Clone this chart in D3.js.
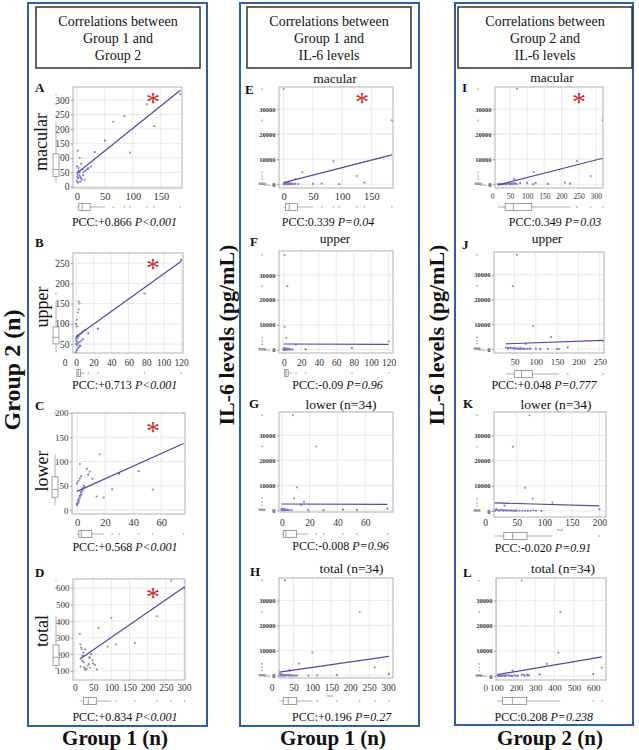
<!DOCTYPE html>
<html><head><meta charset="utf-8">
<script src="https://cdn.jsdelivr.net/npm/d3@7"></script>
<style>body{margin:0;background:#fff}svg{display:block}</style>
</head><body><svg id="c" width="639" height="750"></svg>
<script>
// ---------- DATA (34 patients) ----------
const il6 = [38000, 25500, 9200, 4800, 3300, 2100, 700, 150, 250, 50, 600, 500, 450, 400, 350, 300, 280, 250, 220, 200, 180, 150, 130, 120, 100, 90, 80, 70, 60, 50, 40, 30, 20, 10];
const g1Macular = [0, 185, 85, 32, 125, 20, 138, 50, 65, 95, 2, 5, 8, 3, 10, 15, 20, 12, 1, 4, 6, 7, 0, 2, 9, 18, 25, 3, 5, 1, 11, 14, 6, 2];
const g2Macular = [71, 320, 245, 120, 285, 62, 210, 160, 225, 118, 125, 100, 80, 65, 60, 55, 65, 50, 45, 40, 35, 30, 20, 15, 25, 60, 70, 55, 50, 35, 40, 25, 18, 30];
const g1Upper = [1, 4, 1, 3, 120, 14, 78, 25, 2, 0, 0, 1, 2, 3, 5, 1, 0, 2, 4, 6, 8, 0, 1, 3, 2, 5, 7, 10, 0, 1, 2, 4, 3, 1];
const g2Upper = [56, 46, 94, 136, 258, 77, 175, 88, 65, 60, 30, 35, 40, 42, 45, 48, 50, 52, 55, 58, 62, 65, 68, 70, 72, 75, 80, 85, 100, 110, 128, 150, 155, 35];
const g1Lower = [8, 25, 11, 9, 16, 14, 76, 54, 44, 30, 0, 0, 1, 1, 1, 2, 2, 2, 3, 3, 3, 4, 4, 5, 5, 0, 1, 2, 3, 7, 19, 2, 1, 0];
const g2Lower = [73, 43, 65, 79, 115, 28, 200, 42, 80, 75, 14, 12, 15, 20, 22, 25, 28, 30, 32, 35, 38, 40, 45, 48, 50, 55, 60, 65, 70, 85, 26, 95, 18, 10];
const g1Total = [28, 225, 100, 65, 265, 40, 302, 113, 165, 90, 13, 15, 17, 18, 20, 22, 24, 25, 27, 30, 32, 35, 38, 40, 42, 45, 48, 50, 55, 60, 16, 19, 23, 28];
const g2Total = [230, 430, 420, 360, 645, 183, 600, 259, 268, 245, 323, 260, 240, 230, 160, 191, 150, 120, 110, 105, 112, 130, 140, 175, 118, 200, 165, 145, 135, 108, 125, 180, 210, 115];

const panelIds = ["A","B","C","D","E","F","G","H","I","J","K","L"];
const regions = ["macular","upper","lower","total"];
const subTitles = ["macular","upper","lower (n=34)","total (n=34)"];
const pccValues = ["+0.866","+0.713","+0.568","+0.834","0.339","-0.09","-0.008","+0.196","0.349","+0.048","-0.020","0.208"];
const pValues = ["P<0.001","P<0.001","P<0.001","P<0.001","P=0.04","P=0.96","P=0.96","P=0.27","P=0.03","P=0.777","P=0.91","P=0.238"];
const fitIntercept = [47, 68, 38.5, 150, 640, 2300, 2520, 1160, -840, 1925, 3280, -810];
const fitSlope = [1.55, 1.556, 1.3, 1.516, 60, -1.5, -2, 21.6, 35.1, 6.2, -6.3, 13.1];
const significant = [true,true,true,true,true,false,false,false,true,false,false,false];
const xTicks = [[0,50,100,150],[0,20,40,60,80,100,120],[0,20,40,60],[0,50,100,150,200,250,300],
                [0,50,100,150],[0,20,40,60,80,100,120],[0,20,40,60],[50,100,150,200,250,300],
                [50,100,150,200,250,300],[50,100,150,200,250],[50,100,150,200],[100,200,300,400,500,600]];
const yTicksG2 = [[0,50,100,150,200,250,300],[50,100,150,200,250],[0,50,100,150,200],[100,200,300,400,500,600]];
const yTicksIL6 = [0,10000,20000,30000];
const columnTitles = [["Correlations between","Group 1 and","Group 2"],["Correlations between","Group 1 and","IL-6 levels"],["Correlations between","Group 2 and","IL-6 levels"]];
const sideTitles = ["Group 2 (n)","IL-6 levels (pg/mL)","IL-6 levels (pg/mL)"];
const bottomTitles = ["Group 1 (n)","Group 1 (n)","Group 2 (n)"];

const panelX = [g1Macular,g1Upper,g1Lower,g1Total, g1Macular,g1Upper,g1Lower,g1Total, g2Macular,g2Upper,g2Lower,g2Total];
const panelY = [g2Macular,g2Upper,g2Lower,g2Total, il6,il6,il6,il6, il6,il6,il6,il6];

// ---------- LAYOUT ----------
const L = [
 {x0:73,x1:182,y0:87,y1:188,xd:[-7,188],yd:[-4,345],xlb:200,mY:207,pc:[124.5,226],lt:[35,92],yt:[47,142],st:[153,98],xf:10.5,yf:9.5},
 {x0:73,x1:183,y0:253,y1:353,xd:[-3.5,122],yd:[28,275],xlb:366,mY:373,pc:[124.7,389],lt:[35,247],yt:[48,307],st:[153,264],xf:9.5,yf:9.5,s0:65},
 {x0:72,x1:185,y0:413,y1:514,xd:[-3.6,77],yd:[-8,200],xlb:526,mY:534,pc:[125,551],lt:[35,410],yt:[48,471],st:[153,427],xf:10.5,yf:9},
 {x0:73,x1:185,y0:579,y1:680,xd:[-5.5,303],yd:[44,655],xlb:691,mY:701,pc:[125,721],lt:[35,577],yt:[48,631],st:[153,593],xf:9.5,yf:9},
 {x0:279,x1:393,y0:87,y1:188,xd:[-8,187],yd:[-1480,38800],xlb:200,mY:207,pc:[328,226],lt:[245,94],sb:[335,83],st:[362,98],xf:10.5,yf:6.5,val:1},
 {x0:279,x1:393,y0:251,y1:353,xd:[-5.5,125],yd:[-1320,39600],xlb:366,mY:373,pc:[337.5,389],lt:[250,246],sb:[335,243],xf:9.5,yf:6.5,val:1},
 {x0:279,x1:393,y0:412,y1:512,xd:[-2,80],yd:[-680,39300],xlb:526,mY:534,pc:[340.5,550],lt:[249,408],sb:[341,409],xf:9.5,yf:6.5},
 {x0:279,x1:393,y0:578,y1:678,xd:[12,313],yd:[-920,38960],xlb:691,mY:701,pc:[341.7,721],lt:[250,576],sb:[351.5,573],xf:9.5,yf:6.5,s0:272,val:1,tiny:[330,697]},
 {x0:495,x1:603,y0:87,y1:188,xd:[6.7,320.7],yd:[-1480,38800],xlb:199,mY:207,pc:[555,226],lt:[462,92],sb:[552,82],st:[579,98],xf:7.5,yf:6.5,s0:492.7,val:1},
 {x0:494,x1:604,y0:252,y1:353,xd:[2,260],yd:[-1600,39200],xlb:365,mY:374,pc:[544,389],lt:[462,249],sb:[547,243],xf:9,yf:6.5,val:1},
 {x0:494,x1:606,y0:412,y1:517,xd:[8.8,212],yd:[-2400,39300],xlb:526,mY:536,pc:[543,552],lt:[463,408],sb:[556,409],xf:9.5,yf:6.5,s0:485.7,tiny:[560,530.5]},
 {x0:496,x1:606,y0:578,y1:680,xd:[97,666],yd:[-1600,39000],xlb:691,mY:701,pc:[543.7,721],lt:[463,577],sb:[563,573],xf:9,yf:6.5,s0:485.7,val:1}
];

const serif = "'Liberation Serif','Times New Roman',serif";
const svg = d3.select("#c").attr("font-family", serif);

// column frames
[[28,3,207,726],[240,3,419,726],[455,3,633,725]].forEach(f=>{
  svg.append("rect").attr("x",f[0]).attr("y",f[1]).attr("width",f[2]-f[0]).attr("height",f[3]-f[1])
    .attr("fill","none").attr("stroke","#2f5da6").attr("stroke-width",2);
});
// title boxes
[[36,7,200,68],[247,7,411,68],[458,7,632,68]].forEach((b,i)=>{
  svg.append("rect").attr("x",b[0]).attr("y",b[1]).attr("width",b[2]-b[0]).attr("height",b[3]-b[1])
    .attr("fill","#fff").attr("stroke","#333").attr("stroke-width",1.5);
  columnTitles[i].forEach((t,j)=>{
    svg.append("text").attr("x",(b[0]+b[2])/2).attr("y",25.9+17*j).attr("text-anchor","middle")
      .attr("font-size",14).attr("fill","#111").text(t);
  });
});
// side titles
[[20,370,24],[234,335,22],[444,335,22]].forEach((s,i)=>{
  svg.append("text").attr("transform",`translate(${s[0]},${s[1]}) rotate(-90)`).attr("text-anchor","middle")
    .attr("font-size",s[2]).attr("font-weight","bold").attr("fill","#111").text(sideTitles[i]);
});
// bottom titles
[115,333,550].forEach((x,i)=>{
  svg.append("text").attr("x",x).attr("y",745).attr("text-anchor","middle").attr("font-size",21)
    .attr("font-weight","bold").attr("fill","#111").text(bottomTitles[i]);
});

function boxStats(vals){
  const s = vals.slice().sort(d3.ascending);
  const q1=d3.quantile(s,.25), md=d3.quantile(s,.5), q3=d3.quantile(s,.75), iqr=q3-q1;
  const lo=d3.min(s.filter(v=>v>=q1-1.5*iqr)), hi=d3.max(s.filter(v=>v<=q3+1.5*iqr));
  return {q1,md,q3,lo,hi,out:s.filter(v=>v<lo||v>hi)};
}

const defs = svg.append("defs");

L.forEach((p,i)=>{
  const xv = panelX[i], yv = panelY[i];
  const xs = d3.scaleLinear().domain(p.xd).range([p.x0,p.x1]);
  const ys = d3.scaleLinear().domain(p.yd).range([p.y1,p.y0]);
  const yt = i<4 ? yTicksG2[i] : yTicksIL6;
  const xt = xTicks[i];
  const g = svg.append("g");
  defs.append("clipPath").attr("id","cp"+i).append("rect")
    .attr("x",p.x0).attr("y",p.y0).attr("width",p.x1-p.x0).attr("height",p.y1-p.y0);
  // grid
  g.selectAll(null).data(xt.filter(v=>v>p.xd[0]&&v<p.xd[1])).join("line")
    .attr("x1",d=>xs(d)).attr("x2",d=>xs(d)).attr("y1",p.y0).attr("y2",p.y1)
    .attr("stroke","#e4e4e4").attr("stroke-width",0.8);
  g.selectAll(null).data(yt.filter(v=>v>p.yd[0]&&v<p.yd[1])).join("line")
    .attr("y1",d=>ys(d)).attr("y2",d=>ys(d)).attr("x1",p.x0).attr("x2",p.x1)
    .attr("stroke","#e4e4e4").attr("stroke-width",0.8);
  g.append("rect").attr("x",p.x0).attr("y",p.y0).attr("width",p.x1-p.x0).attr("height",p.y1-p.y0)
    .attr("fill","none").attr("stroke","#b0b0b0").attr("stroke-width",1);
  // points
  const pts = g.append("g").attr("clip-path",`url(#cp${i})`);
  pts.selectAll("circle").data(d3.range(xv.length)).join("circle")
    .attr("cx",k=>xs(xv[k])).attr("cy",k=>ys(yv[k])).attr("r",1.1)
    .attr("fill",k=> (yv[k] > (i<4?0:3000) && (i>=4 || Math.abs(yv[k]-(fitIntercept[i]+fitSlope[i]*xv[k]))>40)) ? "#9a9a9a" : "#7d7dc8");
  // fit line
  const ext = d3.extent(xv);
  pts.append("line").attr("x1",xs(ext[0])).attr("x2",xs(ext[1]))
    .attr("y1",ys(fitIntercept[i]+fitSlope[i]*ext[0])).attr("y2",ys(fitIntercept[i]+fitSlope[i]*ext[1]))
    .attr("stroke","#4a4aa6").attr("stroke-width",1.2);
  // axes
  const ax = g.append("g").attr("transform",`translate(0,${p.y1})`)
    .call(d3.axisBottom(xs).tickValues(xt).tickSize(0).tickPadding(p.xlb-p.y1-0.71*p.xf).tickFormat(d3.format("d")));
  ax.attr("font-family",serif).attr("font-size",p.xf);
  ax.select(".domain").remove();
  ax.selectAll("text").attr("fill","#333");
  const ay = g.append("g").attr("transform",`translate(${p.x0},0)`)
    .call(d3.axisLeft(ys).tickValues(yt).tickSize(2).tickPadding(1.5).tickFormat(d3.format("d")));
  ay.attr("font-family",serif).attr("font-size",p.yf).attr("font-weight", i<4?"normal":"bold");
  ay.select(".domain").remove();
  ay.selectAll("line").attr("stroke","#999");
  ay.selectAll("text").attr("fill","#333");
  if(p.s0!==undefined){
    g.append("text").attr("x",p.s0).attr("y",p.xlb).attr("text-anchor","middle").attr("font-size",p.xf).attr("fill","#333").text("0");
  }
  // vertical marginal box (y)
  const by = boxStats(yv), cx = p.x0-17;
  g.append("line").attr("x1",cx).attr("x2",cx).attr("y1",ys(by.lo)).attr("y2",ys(by.hi)).attr("stroke","#999").attr("stroke-width",0.8);
  g.append("rect").attr("x",cx-3).attr("width",6).attr("y",ys(by.q3)).attr("height",Math.max(1.5,ys(by.q1)-ys(by.q3)))
    .attr("fill","#fff").attr("stroke","#888").attr("stroke-width",0.8);
  g.append("line").attr("x1",cx-3).attr("x2",cx+3).attr("y1",ys(by.md)).attr("y2",ys(by.md)).attr("stroke","#888").attr("stroke-width",0.8);
  g.selectAll(null).data(by.out).join("circle").attr("cx",cx).attr("cy",d=>ys(d)).attr("r",0.8).attr("fill","#999");
  // horizontal marginal box (x)
  const bx = boxStats(xv), cy = p.mY;
  g.append("line").attr("y1",cy).attr("y2",cy).attr("x1",xs(bx.lo)).attr("x2",xs(bx.hi)).attr("stroke","#999").attr("stroke-width",0.8);
  g.append("rect").attr("y",cy-3.5).attr("height",7).attr("x",xs(bx.q1)).attr("width",Math.max(1.5,xs(bx.q3)-xs(bx.q1)))
    .attr("fill","#fff").attr("stroke","#888").attr("stroke-width",0.8);
  g.append("line").attr("y1",cy-3.5).attr("y2",cy+3.5).attr("x1",xs(bx.md)).attr("x2",xs(bx.md)).attr("stroke","#888").attr("stroke-width",0.8);
  g.selectAll(null).data(bx.out).join("circle").attr("cy",cy).attr("cx",d=>xs(d)).attr("r",0.8).attr("fill","#999");
  // tiny labels
  if(p.val) g.append("text").attr("x",p.x0-12).attr("y",ys(0)+1.5).attr("text-anchor","middle").attr("font-size",3.5).attr("fill","#777").text("value");
  if(p.tiny) g.append("text").attr("x",p.tiny[0]).attr("y",p.tiny[1]).attr("text-anchor","middle").attr("font-size",3.5).attr("fill","#777").text("total");
  // panel letter
  g.append("text").attr("x",p.lt[0]).attr("y",p.lt[1]).attr("font-size",13).attr("font-weight","bold").attr("fill","#111").text(panelIds[i]);
  // titles
  if(i<4){
    g.append("text").attr("transform",`translate(${p.yt[0]},${p.yt[1]}) rotate(-90)`).attr("text-anchor","middle")
      .attr("font-size",18).attr("fill","#111").text(regions[i]);
  } else {
    g.append("text").attr("x",p.sb[0]).attr("y",p.sb[1]).attr("text-anchor","middle").attr("font-size",13.5).attr("fill","#111").text(subTitles[i%4]);
  }
  if(significant[i] && p.st){
    g.append("text").attr("x",p.st[0]).attr("y",p.st[1]+13).attr("text-anchor","middle").attr("font-size",28).attr("fill","#c62f2f").text("*");
  }
  const pt = g.append("text").attr("x",p.pc[0]).attr("y",p.pc[1]).attr("text-anchor","middle").attr("font-size",12).attr("fill","#111");
  pt.append("tspan").text("PCC:"+pccValues[i]+" ");
  pt.append("tspan").attr("font-style","italic").text(pValues[i]);
});
</script></body></html>
